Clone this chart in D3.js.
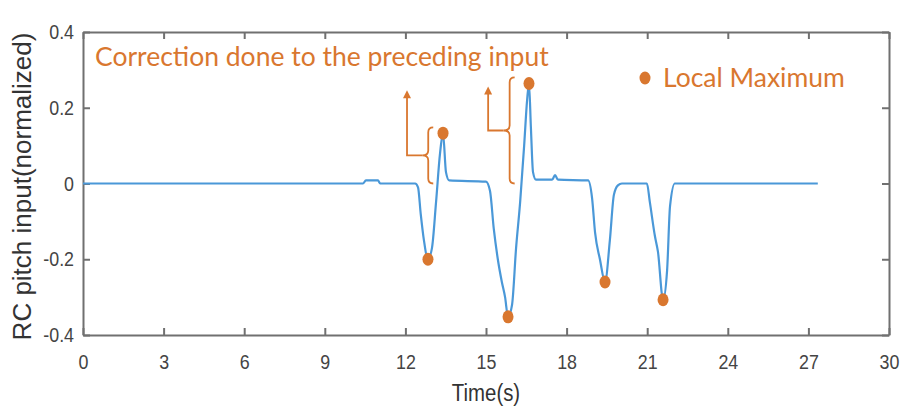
<!DOCTYPE html>
<html>
<head>
<meta charset="utf-8">
<script src="https://cdn.jsdelivr.net/npm/d3@7"></script>
<style>
  body { margin: 0; background: #fff; }
</style>
</head>
<body>
<script>
// Data
var times = [0, 10.42, 10.53, 10.98, 11.06, 12.36, 12.47, 12.57, 12.69, 12.84, 12.99, 13.14, 13.29, 13.4, 13.51, 13.63,
  15.0, 15.15, 15.29, 15.44, 15.59, 15.71, 15.82, 15.97, 16.12, 16.27, 16.42, 16.53, 16.6, 16.67, 16.75, 16.86,
  17.46, 17.57, 17.68, 18.8, 18.95, 19.06, 19.24, 19.43, 19.61, 19.76, 19.91, 20.06,
  20.99, 21.1, 21.29, 21.4, 21.59, 21.74, 21.85, 22.03, 27.35];
var pitch = [0, 0, 0.008, 0.008, 0, 0, -0.01, -0.08, -0.15, -0.2, -0.17, -0.05, 0.08, 0.133, 0.03, 0.008,
  0.005, -0.02, -0.12, -0.2, -0.26, -0.3, -0.352, -0.32, -0.17, -0.05, 0.1, 0.22, 0.264, 0.15, 0.03, 0.01,
  0.01, 0.022, 0.01, 0.008, -0.04, -0.13, -0.2, -0.26, -0.15, -0.03, -0.005, 0,
  0, -0.05, -0.14, -0.18, -0.307, -0.23, -0.06, 0, 0];
var peakTimes = [12.84, 13.4, 15.82, 16.6, 19.43, 21.59];
var peakValues = [-0.2, 0.133, -0.352, 0.264, -0.26, -0.307];
var xTicks = [0, 3, 6, 9, 12, 15, 18, 21, 24, 27, 30];
var yTicks = [-0.4, -0.2, 0, 0.2, 0.4];
// correction brackets: [arrow time, arrow top, bracket time, bracket top, bracket bottom]
var corrections = [
  [12.06, 0.245, 12.85, 0.148, 0.0],
  [15.08, 0.255, 15.88, 0.28, 0.0]
];

var width = 903, height = 410;
var margin = { top: 32, right: 14, bottom: 75, left: 83 };
var w = width - margin.left - margin.right;
var h = height - margin.top - margin.bottom;

var orange = "#d9772f";
var blue = "#4a98d8";
var axisGrey = "#707070";
var squeeze = 0.85; // narrow MATLAB-like tick font

var svg = d3.select("body").append("svg")
    .attr("width", width)
    .attr("height", height);

var g = svg.append("g")
    .attr("transform", "translate(" + margin.left + "," + margin.top + ")");

var x = d3.scaleLinear().domain([0, 30]).range([0, w]);
var y = d3.scaleLinear().domain([-0.4, 0.4]).range([h, 0]);

// Axes (MATLAB-style box with inward ticks)
var fmtY = function (d) { return d === 0 ? "0" : d3.format(".1f")(d).replace("−", "-"); };

var xAxis = g.append("g")
    .attr("transform", "translate(0," + h + ")")
    .call(d3.axisBottom(x).tickValues(xTicks).tickSizeInner(-7).tickSizeOuter(0).tickPadding(19));
var yAxis = g.append("g")
    .call(d3.axisLeft(y).tickValues(yTicks).tickSizeInner(-7).tickSizeOuter(0).tickPadding(9).tickFormat(fmtY));
var xTop = g.append("g")
    .call(d3.axisTop(x).tickValues(xTicks).tickSizeInner(-7).tickSizeOuter(0).tickFormat(""));
var yRight = g.append("g")
    .attr("transform", "translate(" + w + ",0)")
    .call(d3.axisRight(y).tickValues(yTicks).tickSizeInner(-7).tickSizeOuter(0).tickFormat(""));

[xAxis, yAxis, xTop, yRight].forEach(function (a) {
    a.attr("font-family", "Liberation Sans, Arial, sans-serif");
    a.selectAll("path, line").attr("stroke", axisGrey).attr("stroke-width", 2);
    a.selectAll("text").attr("fill", "#444").attr("font-size", "21px");
});
xAxis.selectAll("text").attr("transform", "scale(" + squeeze + ",1)");
yAxis.selectAll("text")
    .attr("x", -9 / squeeze)
    .attr("transform", "scale(" + squeeze + ",1)");

// Axis labels
svg.append("text")
    .attr("transform", "translate(" + (margin.left + x(15)) + ",401) scale(" + squeeze + ",1)")
    .attr("text-anchor", "middle")
    .attr("font-family", "Liberation Sans, Arial, sans-serif")
    .attr("font-size", "24px")
    .attr("fill", "#333")
    .text("Time(s)");

svg.append("text")
    .attr("transform", "translate(31," + (margin.top + h / 2 + 3) + ") rotate(-90)")
    .attr("text-anchor", "middle")
    .attr("font-family", "Liberation Sans, Arial, sans-serif")
    .attr("font-size", "26px")
    .attr("fill", "#333")
    .text("RC pitch input(normalized)");

// Line
var line = d3.line()
    .x(function (d, i) { return x(times[i]); })
    .y(function (d) { return y(d); })
    .curve(d3.curveMonotoneX);

g.append("path")
    .datum(pitch)
    .attr("d", line)
    .attr("fill", "none")
    .attr("stroke", blue)
    .attr("stroke-width", 2.2);

// Local maxima dots
g.selectAll("ellipse.peak")
    .data(peakValues)
    .enter().append("ellipse")
    .attr("class", "peak")
    .attr("cx", function (d, i) { return x(peakTimes[i]); })
    .attr("cy", function (d) { return y(d); })
    .attr("rx", 5.5)
    .attr("ry", 6.5)
    .attr("fill", orange);

// Correction annotations: arrow + brace
svg.append("defs").append("marker")
    .attr("id", "arrow")
    .attr("viewBox", "0 0 10 10")
    .attr("refX", 2).attr("refY", 5)
    .attr("markerUnits", "userSpaceOnUse")
    .attr("markerWidth", 9).attr("markerHeight", 8)
    .attr("orient", "auto")
    .append("path")
    .attr("d", "M0,0 L10,5 L0,10 z")
    .attr("fill", orange);

corrections.forEach(function (c) {
    var ax = x(c[0]), ay = y(c[1]);
    var bx = x(c[2]), bt = y(c[3]), bb = y(c[4]);
    var mid = (bt + bb) / 2;
    var tipX = bx - 6;
    // vertical arrow, then horizontal leg to brace tip
    g.append("path")
        .attr("d", "M" + (tipX) + "," + mid + " L" + ax + "," + mid + " L" + ax + "," + (ay + 6))
        .attr("fill", "none")
        .attr("stroke", orange)
        .attr("stroke-width", 1.8)
        .attr("marker-end", "url(#arrow)");
    // brace "{"
    var r = 5;
    g.append("path")
        .attr("d", "M" + (bx + r) + "," + bt +
            " Q" + bx + "," + bt + " " + bx + "," + (bt + r) +
            " L" + bx + "," + (mid - r) +
            " Q" + bx + "," + mid + " " + tipX + "," + mid +
            " Q" + bx + "," + mid + " " + bx + "," + (mid + r) +
            " L" + bx + "," + (bb - r) +
            " Q" + bx + "," + bb + " " + (bx + r) + "," + bb)
        .attr("fill", "none")
        .attr("stroke", orange)
        .attr("stroke-width", 1.8);
});

// Annotation texts
svg.append("text")
    .attr("x", 95)
    .attr("y", 66)
    .attr("font-family", "Lato, Open Sans, sans-serif")
    .attr("font-size", "26.5px")
    .attr("fill", orange)
    .text("Correction done to the preceding input");

svg.append("ellipse")
    .attr("cx", 645)
    .attr("cy", 78)
    .attr("rx", 5.5)
    .attr("ry", 6.5)
    .attr("fill", orange);

svg.append("text")
    .attr("x", 663)
    .attr("y", 87)
    .attr("font-family", "Lato, Open Sans, sans-serif")
    .attr("font-size", "26.5px")
    .attr("fill", orange)
    .text("Local Maximum");
</script>
</body>
</html>
